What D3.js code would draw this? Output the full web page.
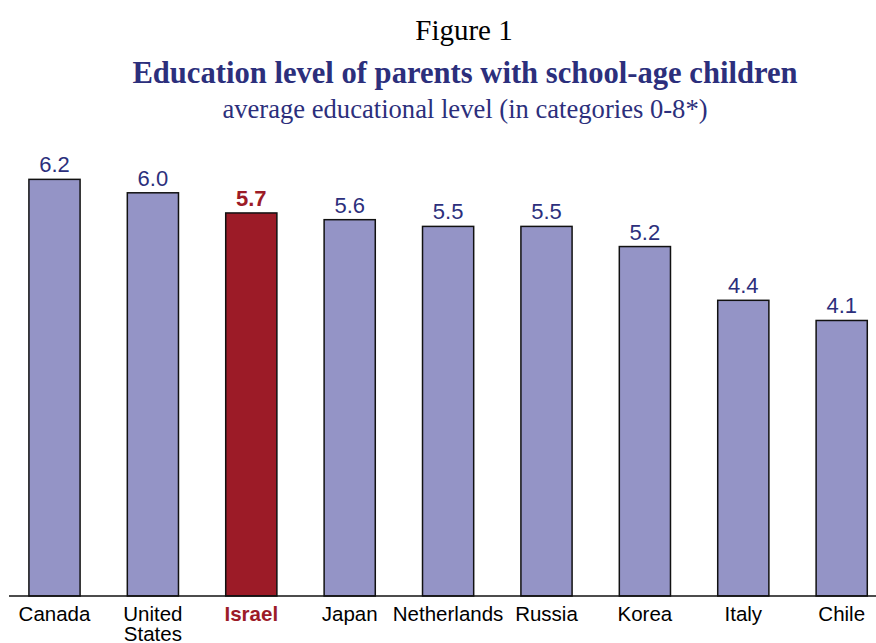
<!DOCTYPE html>
<html>
<head>
<meta charset="utf-8">
<script src="https://cdn.jsdelivr.net/npm/d3@7"></script>
<style>
  body { margin: 0; background: #fff; }
</style>
</head>
<body>
<div id="chart"></div>
<script>
const countries = ["Canada", "United States", "Israel", "Japan", "Netherlands", "Russia", "Korea", "Italy", "Chile"];
const values = [6.2, 6.0, 5.7, 5.6, 5.5, 5.5, 5.2, 4.4, 4.1];
const highlight = "Israel";

const W = 876, H = 643;
const baseY = 596;
const barColor = "#9494c6";
const hiColor = "#9c1b27";
const navy = "#2c2f7c";

const svg = d3.select("#chart")
  .append("svg")
  .attr("width", W)
  .attr("height", H);

svg.append("text")
  .attr("x", 464)
  .attr("y", 40)
  .attr("text-anchor", "middle")
  .style("font-family", "'Liberation Serif', 'Times New Roman', serif")
  .style("font-size", "29px")
  .style("fill", "#000")
  .text("Figure 1");

svg.append("text")
  .attr("x", 465)
  .attr("y", 83)
  .attr("text-anchor", "middle")
  .style("font-family", "'Liberation Serif', 'Times New Roman', serif")
  .style("font-size", "30.6px")
  .style("font-weight", "bold")
  .style("fill", navy)
  .text("Education level of parents with school-age children");

svg.append("text")
  .attr("x", 465)
  .attr("y", 118)
  .attr("text-anchor", "middle")
  .style("font-family", "'Liberation Serif', 'Times New Roman', serif")
  .style("font-size", "26.6px")
  .style("fill", navy)
  .text("average educational level (in categories 0-8*)");

const x = d3.scaleBand()
  .domain(countries)
  .range([5.3, 890.9])
  .paddingInner(0.48)
  .paddingOuter(0.24);

const y = d3.scaleLinear()
  .domain([0, 8])
  .range([baseY, baseY - 8 * 67.2]);

svg.selectAll(".bar")
  .data(countries)
  .enter()
  .append("rect")
  .attr("class", "bar")
  .attr("x", d => x(d))
  .attr("y", (d, i) => y(values[i]))
  .attr("width", x.bandwidth())
  .attr("height", (d, i) => y(0) - y(values[i]))
  .attr("fill", d => d === highlight ? hiColor : barColor)
  .attr("stroke", "#111")
  .attr("stroke-width", 1.5);

svg.selectAll(".val")
  .data(countries)
  .enter()
  .append("text")
  .attr("class", "val")
  .attr("x", d => x(d) + x.bandwidth() / 2)
  .attr("y", (d, i) => y(values[i]) - 7)
  .attr("text-anchor", "middle")
  .style("font-family", "'Liberation Sans', Arial, sans-serif")
  .style("font-size", "22px")
  .style("font-weight", d => d === highlight ? "bold" : "normal")
  .style("fill", d => d === highlight ? hiColor : navy)
  .text((d, i) => values[i].toFixed(1));

// baseline
svg.append("line")
  .attr("x1", 9)
  .attr("x2", W)
  .attr("y1", baseY)
  .attr("y2", baseY)
  .attr("stroke", "#111")
  .attr("stroke-width", 1.5);

const labels = svg.selectAll(".lab")
  .data(countries)
  .enter()
  .append("text")
  .attr("class", "lab")
  .attr("x", d => x(d) + x.bandwidth() / 2)
  .attr("y", 621)
  .attr("text-anchor", "middle")
  .style("font-family", "'Liberation Sans', Arial, sans-serif")
  .style("font-size", "20.5px")
  .style("font-weight", d => d === highlight ? "bold" : "normal")
  .style("fill", d => d === highlight ? hiColor : "#000");

labels.each(function(d) {
  const words = d === "United States" ? ["United", "States"] : [d];
  const t = d3.select(this);
  words.forEach((w, k) => {
    t.append("tspan")
      .attr("x", x(d) + x.bandwidth() / 2)
      .attr("dy", k === 0 ? 0 : 20)
      .text(w);
  });
});
</script>
</body>
</html>
